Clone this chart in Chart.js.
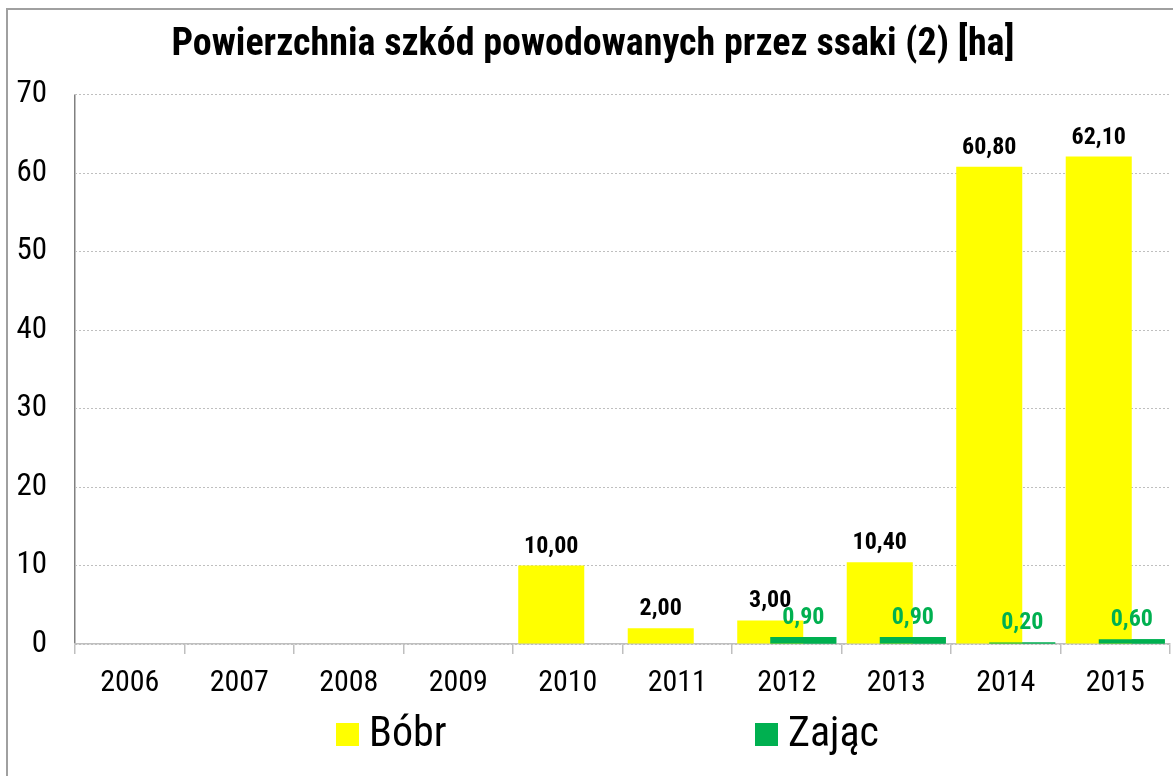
<!DOCTYPE html>
<html>
<head>
<meta charset="utf-8">
<title>Powierzchnia szkód</title>
<script src="https://cdn.jsdelivr.net/npm/chart.js@4.4.1/dist/chart.umd.min.js"></script>
<style>
  body { margin: 0; width: 1173px; height: 776px; overflow: hidden; background: #fff; position: relative; }
  #frame { position: absolute; left: 6px; top: 8px; width: 1200px; height: 800px;
           border-left: 2px solid #a0a0a0; border-top: 2px solid #a0a0a0; }
  #box { position: absolute; left: 0; top: 0; width: 1173px; height: 776px; }
  .leg { position: absolute; top: 711px; height: 42px; line-height: 42px; white-space: nowrap;
         font-family: "Roboto Condensed", "Liberation Sans", sans-serif; font-size: 42px; color: #000; }
  .leg i { position: absolute; left: 0; top: 12px; width: 23px; height: 23px; }
  .leg span { position: absolute; left: 33px; top: 0; }
</style>
</head>
<body>
<div id="frame"></div>
<div id="box"><canvas id="chart"></canvas></div>
<div id="legend"></div>
<script>
const years = ['2006', '2007', '2008', '2009', '2010', '2011', '2012', '2013', '2014', '2015'];
const bobr = [null, null, null, null, 10.0, 2.0, 3.0, 10.4, 60.8, 62.1];
const zajac = [null, null, null, null, null, null, 0.9, 0.9, 0.2, 0.6];
const seriesNames = ['Bóbr', 'Zając'];
const seriesColors = ['#ffff00', '#00b050'];
const labelColors = ['#000000', '#00b050'];
const yTicks = [0, 10, 20, 30, 40, 50, 60, 70];

const FONT = '"Roboto Condensed", "Liberation Sans", sans-serif';

// polish number format: 10,40
const fmt = v => v.toFixed(2).replace('.', ',');

// value labels above bars; the hare bars are drawn again so they sit over the beaver bars
const valueLabels = {
  id: 'valueLabels',
  afterDatasetsDraw(chart) {
    const ctx = chart.ctx;
    chart.getDatasetMeta(1).controller.draw();
    ctx.save();
    ctx.font = 'bold 24px ' + FONT;
    ctx.textAlign = 'center';
    ctx.textBaseline = 'alphabetic';
    chart.data.datasets.forEach((ds, i) => {
      const meta = chart.getDatasetMeta(i);
      ctx.fillStyle = labelColors[i];
      meta.data.forEach((bar, j) => {
        const v = ds.data[j];
        if (!v) return;
        ctx.fillText(fmt(v), bar.x, bar.y - 13);
      });
    });
    ctx.restore();
  }
};

new Chart(document.getElementById('chart'), {
  type: 'bar',
  data: {
    labels: years,
    datasets: [
      { label: seriesNames[0], data: bobr, backgroundColor: seriesColors[0] },
      { label: seriesNames[1], data: zajac, backgroundColor: seriesColors[1] }
    ]
  },
  options: {
    responsive: true,
    maintainAspectRatio: false,
    animation: false,
    categoryPercentage: 0.603,
    barPercentage: 2,
    layout: { padding: { left: 16, right: 3, top: 0, bottom: 0 } },
    plugins: {
      legend: { display: false },
      tooltip: { enabled: false },
      title: {
        display: true,
        text: 'Powierzchnia szkód powodowanych przez ssaki (2) [ha]',
        color: '#000',
        font: { family: FONT, size: 38, weight: 'bold' },
        padding: { top: 23, bottom: 26 }
      }
    },
    scales: {
      x: {
        grid: {
          offset: true,
          drawOnChartArea: true,
          color: c => c.index === 0 ? '#808080' : 'rgba(0,0,0,0)',
          lineWidth: 1.5,
          tickLength: 10,
          tickColor: '#bfbfbf',
          tickWidth: 1.5
        },
        border: { color: '#bfbfbf', width: 1.5 },
        ticks: { color: '#000', padding: 11, font: { family: FONT, size: 30 }, maxRotation: 0 },
        afterFit: s => { s.height = 132; }
      },
      y: {
        min: 0,
        max: 70,
        afterBuildTicks: s => { s.ticks = yTicks.map(v => ({ value: v })); },
        grid: { color: '#bfbfbf', lineWidth: 1, drawTicks: false, borderDash: [2, 2] },
        border: { display: false, dash: [2, 2] },
        ticks: { color: '#000', padding: 28, font: { family: FONT, size: 31 } },
        afterFit: s => { s.width = 59; }
      }
    }
  },
  plugins: [valueLabels]
});

// legend below the plot
const legendX = [336, 755];
const legend = document.getElementById('legend');
seriesNames.forEach((name, i) => {
  const item = document.createElement('div');
  item.className = 'leg';
  item.style.left = legendX[i] + 'px';
  const sw = document.createElement('i');
  sw.style.background = seriesColors[i];
  const txt = document.createElement('span');
  txt.textContent = name;
  item.appendChild(sw);
  item.appendChild(txt);
  legend.appendChild(item);
});
</script>
</body>
</html>
